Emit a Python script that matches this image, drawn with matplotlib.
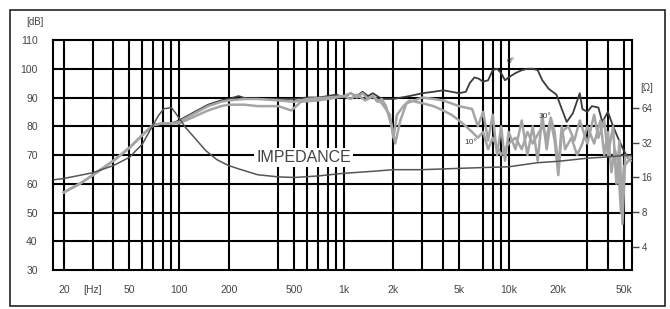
import matplotlib
matplotlib.use("Agg")
import matplotlib.pyplot as plt
from matplotlib.patches import Rectangle

plt.rcParams['font.family'] = ['Liberation Sans', 'DejaVu Sans']

# on-axis and off-axis SPL [dB]
FREQ_0 = [20, 25, 30, 40, 50, 60, 70, 80, 90, 100, 120, 150, 180, 200, 230, 260, 300, 400,
          500, 600, 700, 800, 900, 1000, 1100, 1200, 1300, 1400, 1500, 1700, 2000, 2500,
          3000, 3500, 4000, 4500, 5000, 5500, 5800, 6200, 6600, 7000, 7500, 8000, 8500,
          9000, 9500, 10000, 11000, 12000, 13000, 14000, 15000, 16000, 17500, 19500,
          21000, 22500, 24500, 27000, 28000, 30000, 32000, 35000, 37000, 40000, 43000,
          46000, 50000, 53000]
SPL_0 = [57, 60, 63, 68, 72.5, 77, 80.5, 81, 81, 82, 84.5, 87.5, 89, 89.5, 90.5, 89.5, 89.5,
         89.5, 89.5, 90, 90, 90.5, 91, 90, 91.5, 90.5, 92, 90.5, 91.5, 89.5, 89.5, 90.5,
         91.5, 92, 92.5, 92, 91.5, 92, 95, 97, 96.5, 95.5, 96, 99.5, 100, 98.5, 96, 97,
         98.5, 99.5, 100, 100, 99.5, 96, 93, 91, 86, 81.5, 84.5, 91.5, 86, 85, 87, 86.5,
         81.5, 85, 80, 76, 71.5, 69]

FREQ_10 = [20, 25, 30, 40, 50, 60, 70, 80, 90, 100, 120, 150, 180, 200, 250, 300, 400, 500,
           600, 800, 1000, 1100, 1200, 1300, 1400, 1500, 1600, 1700, 1800, 1950, 2050, 2200,
           2400, 3000, 3500, 4000, 5000, 6000, 6500, 7000, 7500, 8000, 8500, 9000, 9500,
           10000, 11000, 12000, 13000, 14000, 15000, 16000, 17000, 18000, 19000, 20000,
           21000, 23000, 25000, 27000, 30000, 33000, 35000, 38000, 40000, 43000, 45000,
           47000, 49000, 51000, 55000]
SPL_10 = [57, 60, 63, 68, 72.5, 77, 80.5, 81, 81, 81.5, 84, 87, 88.5, 89, 89.5, 89.5, 89,
          88.5, 89.5, 90, 90.5, 91.5, 90, 91.5, 89.5, 90.5, 88.5, 89.5, 87, 80, 74, 82, 88,
          90, 89.5, 89, 87, 86, 80, 85, 75, 84, 70, 80, 68, 78, 72, 82, 70, 80, 68, 84, 72,
          82, 75, 63, 78, 80, 75, 82, 74, 84, 76, 82, 70, 80, 60, 75, 46, 70, 68]

FREQ_30 = [20, 25, 30, 40, 50, 60, 70, 80, 90, 100, 120, 150, 180, 200, 250, 300, 400, 480,
           550, 700, 900, 1000, 1100, 1200, 1350, 1500, 1700, 1900, 2000, 2100, 2300, 2500,
           3000, 3500, 4000, 4500, 5000, 5500, 6000, 6500, 7000, 7500, 8000, 9000, 10000,
           11000, 12000, 13000, 14000, 16000, 17000, 18000, 19000, 20000, 21000, 22000,
           24000, 26000, 28000, 30000, 33000, 36000, 38000, 40000, 42000, 44000, 46000,
           48000, 50000, 55000]
SPL_30 = [57, 60, 63, 68, 72.5, 77, 80.5, 81, 81, 81, 83, 85.5, 87, 87.5, 87.5, 87, 87, 85.5,
          88.5, 89, 90, 90.5, 89.5, 91, 89, 90.5, 88, 84, 76, 84, 87, 89, 88, 87, 85.5, 84,
          82, 80, 78, 76, 78, 72, 76, 70, 74, 76, 72, 78, 74, 80, 76, 83, 78, 66, 80, 72,
          76, 70, 74, 80, 74, 82, 70, 78, 64, 72, 68, 50, 66, 69]

# impedance [ohm]
FREQ_Z = [17.5, 20, 25, 30, 40, 50, 60, 68, 75, 81, 90, 96, 110, 125, 145, 170, 200, 230,
          300, 400, 500, 700, 1000, 1500, 2000, 3000, 5000, 7000, 10000, 15000, 20000,
          30000, 40000, 50000, 56000]
IMP = [15.3, 15.7, 16.7, 17.6, 20.3, 23.9, 31.2, 43, 55, 63, 64.4, 57, 43, 35, 27.4, 22.8,
       20.3, 19, 16.9, 16.2, 16, 16.5, 17.4, 18.1, 18.7, 18.7, 19.2, 19.5, 19.8, 21.5, 22.1,
       23.5, 24.1, 24.8, 24.8]

GRID_FREQS = [20, 30, 40, 50, 60, 70, 80, 90, 100, 200, 400, 500, 600, 700, 800, 900, 1000,
              2000, 3000, 4000, 5000, 7000, 8000, 9000, 10000, 30000, 40000, 50000]
XTICKS = [20, 30, 50, 100, 200, 500, 1000, 2000, 5000, 10000, 20000, 50000]
XTICK_LABELS = ['20', '[Hz]', '50', '100', '200', '500', '1k', '2k', '5k', '10k', '20k', '50k']
DB_TICKS = [30, 40, 50, 60, 70, 80, 90, 100, 110]
OHM_TICKS = [4, 8, 16, 32, 64]

DARK = '#3c3c3c'
LIGHT = '#a5a5a5'
TEXT = '#444444'


def main():
    fig = plt.figure(figsize=(6.7, 3.09), dpi=100)
    fig.patches.append(Rectangle((0.015, 0.01), 0.978, 0.957, transform=fig.transFigure,
                                 fill=False, edgecolor='#222222', linewidth=1.2))

    ax = fig.add_axes([0.0791, 0.1262, 0.8642, 0.7443])
    ax.set_xscale('log')
    ax.set_xlim(17.2, 56000)
    ax.set_ylim(30, 110)

    for f in GRID_FREQS:
        ax.axvline(f, color='black', linewidth=1.5, zorder=1)
    for d in DB_TICKS[1:-1]:
        ax.axhline(d, color='black', linewidth=1.5, zorder=1)

    ax.plot(FREQ_0, SPL_0, color=DARK, linewidth=1.3, zorder=3)
    ax.plot(FREQ_30, SPL_30, color=LIGHT, linewidth=1.8, zorder=4)
    ax.plot(FREQ_10, SPL_10, color=LIGHT, linewidth=1.8, zorder=4)

    ax.set_xticks(XTICKS)
    ax.set_xticklabels(XTICK_LABELS)
    ax.xaxis.set_minor_locator(plt.NullLocator())
    ax.set_yticks(DB_TICKS)
    ax.tick_params(length=0, labelsize=7.5, colors=TEXT, pad=11)
    for s in ax.spines.values():
        s.set_linewidth(1.5)

    ax.text(10300, 102.5, '0°', fontsize=6, color=DARK, ha='center', va='center', zorder=5)
    ax.text(5900, 74.5, '10°', fontsize=6, color=DARK, ha='center', va='center', zorder=5)
    ax.text(16600, 83.5, '30°', fontsize=6, color=DARK, ha='center', va='center', zorder=5)
    ax.text(570, 69, 'IMPEDANCE', fontsize=11.5, color=TEXT, ha='center', va='center', zorder=6,
            bbox=dict(facecolor='white', edgecolor='none', pad=1.5))
    fig.text(0.052, 0.928, '[dB]', fontsize=7, color=TEXT, ha='center', va='center')

    az = ax.twinx()
    az.set_yscale('log')
    az.set_ylim(2.53, 248)
    az.plot(FREQ_Z, IMP, color='#555555', linewidth=1.1, zorder=2)
    az.set_yticks(OHM_TICKS)
    az.set_yticklabels([str(t) for t in OHM_TICKS])
    az.yaxis.set_minor_locator(plt.NullLocator())
    az.tick_params(axis='y', length=5, width=1, labelsize=7, colors=TEXT, pad=2)
    az.text(1.025, 0.79, '[Ω]', transform=ax.transAxes, fontsize=7, color=TEXT,
            ha='center', va='center')
    for s in az.spines.values():
        s.set_visible(False)

    fig.savefig('out.png', dpi=100)


if __name__ == "__main__":
    main()
